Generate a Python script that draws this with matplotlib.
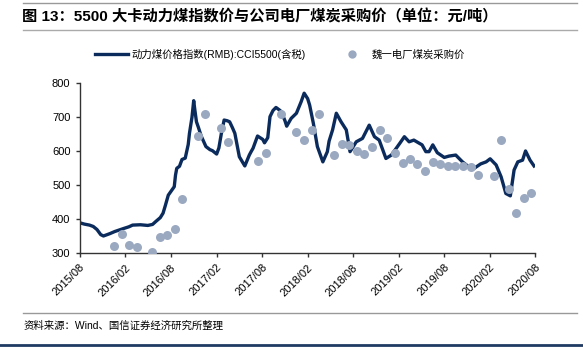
import pandas as pd
import matplotlib.pyplot as plt
import matplotlib.dates as mdates
from matplotlib.lines import Line2D

plt.rcParams['font.family'] = ['Liberation Sans', 'Noto Sans CJK SC']

# 动力煤价格指数 CCI5500
cci_dates = [
    '2015-08-01', '2015-08-20', '2015-09-10', '2015-09-25', '2015-10-10', '2015-10-25',
    '2015-11-05', '2015-11-20', '2015-12-01', '2015-12-20', '2016-01-05', '2016-01-25',
    '2016-02-15', '2016-03-01', '2016-04-01', '2016-05-01', '2016-05-20', '2016-06-01',
    '2016-06-20', '2016-07-01', '2016-07-10', '2016-07-22', '2016-08-15', '2016-08-20',
    '2016-08-25', '2016-09-05', '2016-09-15', '2016-09-28', '2016-10-10', '2016-10-15',
    '2016-10-25', '2016-11-01', '2016-11-05', '2016-11-12', '2016-11-20', '2016-12-01',
    '2016-12-20', '2017-01-05', '2017-01-15', '2017-02-01', '2017-02-10', '2017-02-20',
    '2017-03-03', '2017-03-15', '2017-03-25', '2017-04-05', '2017-04-15', '2017-05-03',
    '2017-05-25', '2017-06-12', '2017-06-20', '2017-06-27', '2017-07-15', '2017-08-05',
    '2017-08-12', '2017-08-25', '2017-09-03', '2017-09-15', '2017-09-27', '2017-10-10',
    '2017-10-18', '2017-11-02', '2017-11-09', '2017-11-27', '2017-12-18', '2018-01-06',
    '2018-01-18', '2018-02-01', '2018-02-09', '2018-02-24', '2018-03-12', '2018-04-03',
    '2018-04-21', '2018-04-28', '2018-05-12', '2018-05-27', '2018-06-15', '2018-07-06',
    '2018-07-21', '2018-08-15', '2018-09-09', '2018-10-06', '2018-10-27', '2018-11-15',
    '2018-12-12', '2019-01-03', '2019-02-06', '2019-02-24', '2019-03-15', '2019-04-03',
    '2019-04-24', '2019-05-06', '2019-05-21', '2019-06-03', '2019-06-18', '2019-07-06',
    '2019-08-03', '2019-08-22', '2019-09-18', '2019-10-15', '2019-11-12', '2019-12-01',
    '2019-12-27', '2020-01-18', '2020-02-03', '2020-02-27', '2020-03-18', '2020-04-06',
    '2020-04-24', '2020-05-09', '2020-05-24', '2020-06-12', '2020-06-24', '2020-07-12',
    '2020-07-28',
]
cci_values = [
    390, 386, 383, 379, 370, 355,
    351, 355, 358, 364, 368, 373,
    378, 383, 384, 382, 385, 393,
    405, 418, 440, 471, 496, 530,
    550, 556, 576, 580, 620, 653,
    700, 749, 725, 687, 670, 645,
    614, 605, 602, 592, 610, 653,
    692, 690, 687, 670, 653, 584,
    557, 589, 600, 609, 645, 635,
    625, 640, 702, 720, 729, 722,
    717, 690, 674, 697, 712, 746,
    771, 755, 736, 682, 614, 569,
    599, 630, 663, 712, 687, 663,
    599, 628, 638, 677, 643, 633,
    579, 589, 624, 643, 628, 633,
    624, 619, 599, 599, 619, 596,
    582, 586, 589, 569, 553, 550,
    563, 569, 578, 560, 525, 476,
    469, 545, 569, 574, 601, 574,
    557,
]

# 魏一电厂煤炭采购价 (monthly)
plant_dates = [
    '2015-12-17', '2016-01-17', '2016-02-17', '2016-03-17', '2016-05-17', '2016-06-17',
    '2016-07-17', '2016-08-17', '2016-09-17', '2016-11-17', '2016-12-17', '2017-02-17',
    '2017-03-17', '2017-07-17', '2017-08-17', '2017-10-17', '2017-12-17', '2018-01-17',
    '2018-02-17', '2018-03-17', '2018-05-17', '2018-06-17', '2018-07-17', '2018-08-17',
    '2018-09-17', '2018-10-17', '2018-11-17', '2018-12-17', '2019-01-17', '2019-02-17',
    '2019-03-17', '2019-04-17', '2019-05-17', '2019-06-17', '2019-07-17', '2019-08-17',
    '2019-09-17', '2019-10-17', '2019-11-17', '2019-12-17', '2020-02-17', '2020-03-17',
    '2020-04-17', '2020-05-17', '2020-06-17', '2020-07-17',
]
plant_values = [
    322, 358, 324, 319, 303, 347,
    354, 371, 460, 645, 711, 669,
    628, 573, 595, 711, 656, 634,
    662, 711, 590, 623, 620, 601,
    591, 613, 662, 639, 596, 566,
    576, 563, 542, 568, 562, 556,
    556, 556, 554, 531, 528, 634,
    489, 419, 463, 478,
]

line_label = '动力煤价格指数(RMB):CCI5500(含税)'
dot_label = '魏一电厂煤炭采购价'
x_ticks = ['2015-08-01', '2016-02-01', '2016-08-01', '2017-02-01', '2017-08-01', '2018-02-01',
           '2018-08-01', '2019-02-01', '2019-08-01', '2020-02-01', '2020-08-01']

line_color = '#0b2b5c'
dot_color = '#9aa8c0'

fig = plt.figure(figsize=(5.83, 3.51), dpi=100)
ax = fig.add_axes([0.1364, 0.2783, 0.7813, 0.4843])

ax.plot(pd.to_datetime(cci_dates), cci_values, color=line_color, lw=2.4, zorder=2)
ax.scatter(pd.to_datetime(plant_dates), plant_values, s=42, color=dot_color, zorder=3, linewidths=0)

ax.set_xlim(pd.Timestamp('2015-08-01'), pd.Timestamp('2020-08-01'))
ax.set_ylim(300, 800)
ax.set_yticks(range(300, 801, 100))
ax.set_xticks(pd.to_datetime(x_ticks))
ax.xaxis.set_major_formatter(mdates.DateFormatter('%Y/%m'))
plt.setp(ax.get_xticklabels(), rotation=45, ha='right', rotation_mode='anchor')
ax.tick_params(axis='both', labelsize=8, length=3, width=1, color='#333333')
for side in ['top', 'right']:
    ax.spines[side].set_visible(False)
for side in ['left', 'bottom']:
    ax.spines[side].set_color('#333333')
    ax.spines[side].set_linewidth(1)

# legend
handles = [Line2D([], [], color=line_color, lw=2.4),
           Line2D([], [], color=dot_color, marker='o', ls='', markersize=6, markeredgewidth=0)]
fig.legend(handles, [line_label, dot_label], loc='center', bbox_to_anchor=(0.48, 0.846),
           ncol=2, frameon=False, fontsize=7.5, handlelength=3.2, columnspacing=2.8,
           handletextpad=0.3)

# title block and footer lines
fig.add_artist(Line2D([0.04, 0.99], [1 - 3 / 351, 1 - 3 / 351], color='#999999', lw=1))
fig.add_artist(Line2D([0.04, 0.99], [1 - 30 / 351, 1 - 30 / 351], color='#aaaaaa', lw=1))
fig.text(0.038, 1 - 17 / 351, '图 13：5500 大卡动力煤指数价与公司电厂煤炭采购价（单位：元/吨）',
         fontsize=11, fontweight='bold', va='center', ha='left')
fig.add_artist(Line2D([0.04, 0.99], [1 - 313 / 351, 1 - 313 / 351], color='#999999', lw=1))
fig.text(0.04, 1 - 326 / 351, '资料来源：Wind、国信证券经济研究所整理', fontsize=7.5,
         va='center', ha='left')
fig.add_artist(Line2D([0.0, 1.0], [1 - 345 / 351, 1 - 345 / 351], color='#1f3b63', lw=2))

fig.savefig('out.png', dpi=100)
